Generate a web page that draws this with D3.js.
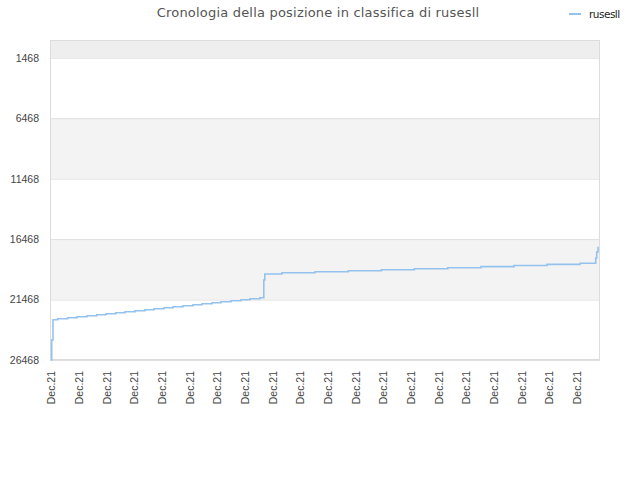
<!DOCTYPE html>
<html>
<head>
<meta charset="utf-8">
<script src="https://cdn.jsdelivr.net/npm/d3@7"></script>
<style>
  body { margin: 0; background: #fff; }
  svg { font-family: 'DejaVu Sans', sans-serif; }
</style>
</head>
<body>
<div id="chart"></div>
<script>
// rank history of rusesll (lower rank = better, drawn towards the top)
const times = [
  '2021-11-30 23:40', '2021-12-01 00:36', '2021-12-01 01:44', '2021-12-01 05:49',
  '2021-12-01 14:29', '2021-12-01 22:33', '2021-12-02 07:13', '2021-12-02 15:37',
  '2021-12-02 23:41', '2021-12-03 08:06', '2021-12-03 16:10', '2021-12-04 00:50',
  '2021-12-04 09:30', '2021-12-04 17:18', '2021-12-05 02:00', '2021-12-05 09:48',
  '2021-12-05 18:27', '2021-12-06 03:07', '2021-12-06 10:56', '2021-12-06 19:36',
  '2021-12-07 03:24', '2021-12-07 12:04', '2021-12-07 20:44', '2021-12-08 04:32',
  '2021-12-08 13:12', '2021-12-08 16:30', '2021-12-08 17:22', '2021-12-09 08:18',
  '2021-12-10 12:55', '2021-12-11 17:47', '2021-12-12 22:24', '2021-12-14 03:00',
  '2021-12-15 08:00', '2021-12-16 12:50', '2021-12-17 17:28', '2021-12-18 22:06',
  '2021-12-20 02:42', '2021-12-20 16:18', '2021-12-20 17:10', '2021-12-20 18:18'
]
const ranks = [
  26468, 24813, 23134, 23051,
  22968, 22886, 22803, 22720,
  22638, 22555, 22472, 22390,
  22307, 22224, 22142, 22059,
  21976, 21893, 21811, 21728,
  21645, 21563, 21480, 21397,
  21315, 19850, 19354, 19247,
  19164, 19082, 18999, 18916,
  18833, 18742, 18651, 18560,
  18469, 18031, 17535, 17096
]
const yTicks = [1468, 6468, 11468, 16468, 21468, 26468]
const timeDomain = ['2021-11-30 23:08', '2021-12-20 20:00']
const rankDomain = [0, 26468]
const title = 'Cronologia della posizione in classifica di rusesll'
const seriesName = 'rusesll'

const width = 640
const height = 480
const margin = {top: 40, right: 40, bottom: 120, left: 50}
const color = '#94c2ef'

const parse = d3.timeParse('%Y-%m-%d %H:%M')
const data = times.map(function (t, i) { return {t: parse(t), r: ranks[i]} })

const x = d3.scaleTime()
    .domain(timeDomain.map(parse))
    .range([margin.left, width - margin.right])
const y = d3.scaleLinear()
    .domain(rankDomain)
    .range([margin.top, height - margin.bottom])

const svg = d3.select('#chart').append('svg')
    .attr('width', width)
    .attr('height', height)

// alternating bands between the ticks
const bandEdges = [rankDomain[0]].concat(yTicks)
const bandFills = ['#eeeeee', '#ffffff', '#f3f3f3', '#ffffff', '#f3f3f3', '#ffffff']
svg.append('g').selectAll('rect')
    .data(d3.pairs(bandEdges))
  .join('rect')
    .attr('x', x.range()[0])
    .attr('width', x.range()[1] - x.range()[0])
    .attr('y', function (d) { return y(d[0]) })
    .attr('height', function (d) { return y(d[1]) - y(d[0]) })
    .attr('fill', function (d, i) { return bandFills[i] })

// y axis with grid lines
const yAxis = d3.axisLeft(y)
    .tickValues(yTicks)
    .tickSize(-(x.range()[1] - x.range()[0]))
    .tickPadding(11)
    .tickFormat(d3.format('d'))
svg.append('g')
    .attr('transform', 'translate(' + margin.left + ',0)')
    .call(yAxis)
    .call(function (g) {
      g.select('.domain').remove()
      g.selectAll('.tick line').attr('stroke', '#e0e0e0')
      g.selectAll('.tick text').attr('fill', '#444').style('font-size', '10.5px')
    })

// frame
svg.append('rect')
    .attr('x', x.range()[0] + 0.5)
    .attr('y', y.range()[0] + 0.5)
    .attr('width', x.range()[1] - x.range()[0] - 1)
    .attr('height', y.range()[1] - y.range()[0] - 1)
    .attr('fill', 'none')
    .attr('stroke', '#dcdcdc')

// x axis
const xAxis = d3.axisBottom(x)
    .ticks(d3.timeDay.every(1))
    .tickSize(0)
    .tickFormat(d3.timeFormat('%b.%y'))
svg.append('g')
    .attr('transform', 'translate(0,' + y.range()[1] + ')')
    .call(xAxis)
    .call(function (g) {
      g.select('.domain').remove()
      g.selectAll('.tick text')
          .attr('fill', '#444')
          .style('font-size', '10.5px')
          .attr('text-anchor', 'end')
          .attr('transform', 'rotate(-90)')
          .attr('x', -11)
          .attr('y', 0)
          .attr('dy', '0.35em')
    })

// line
const line = d3.line()
    .x(function (d) { return x(d.t) })
    .y(function (d) { return y(d.r) })
    .curve(d3.curveStepAfter)
svg.append('path')
    .datum(data)
    .attr('fill', 'none')
    .attr('stroke', color)
    .attr('stroke-width', 1.6)
    .attr('d', line)

// title
svg.append('text')
    .attr('x', 318)
    .attr('y', 17)
    .attr('text-anchor', 'middle')
    .attr('fill', '#555')
    .style('font-size', '13px')
    .style('letter-spacing', '0.2px')
    .text(title)

// legend
const legend = svg.append('g').attr('transform', 'translate(569,14)')
legend.append('line')
    .attr('x1', 0).attr('x2', 12)
    .attr('stroke', color)
    .attr('stroke-width', 2)
legend.append('text')
    .attr('x', 20)
    .attr('dy', '0.35em')
    .attr('fill', '#222')
    .style('font-size', '10.5px')
    .style('letter-spacing', '-0.5px')
    .text(seriesName)
</script>
</body>
</html>
